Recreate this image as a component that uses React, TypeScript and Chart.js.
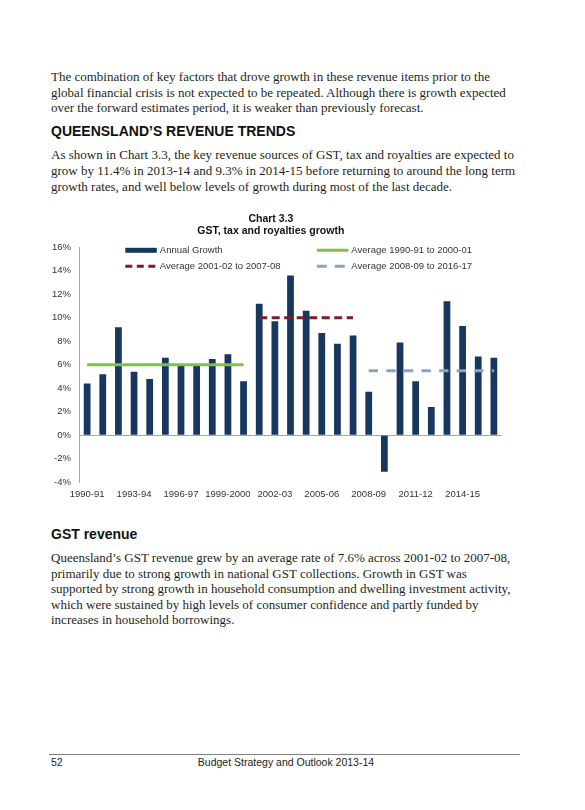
import React, { useEffect, useRef } from "react";
import { Chart, registerables } from "chart.js";

Chart.register(...registerables);

const categories = [
  "1990-91", "1991-92", "1992-93", "1993-94", "1994-95", "1995-96", "1996-97",
  "1997-98", "1998-99", "1999-2000", "2000-01", "2001-02", "2002-03", "2003-04",
  "2004-05", "2005-06", "2006-07", "2007-08", "2008-09", "2009-10", "2010-11",
  "2011-12", "2012-13", "2013-14", "2014-15", "2015-16", "2016-17",
];

const xTickLabels = [
  "1990-91", "1993-94", "1996-97", "1999-2000", "2002-03", "2005-06", "2008-09", "2011-12", "2014-15",
];

const annualGrowth = [
  4.4, 5.2, 9.2, 5.4, 4.8, 6.6, 6.0, 5.9, 6.5, 6.9, 4.6,
  11.2, 9.7, 13.6, 10.6, 8.7, 7.8, 8.5,
  3.7, -3.1, 7.9, 4.6, 2.4, 11.4, 9.3, 6.7, 6.6,
];

const avg1990to2001 = [
  6.0, 6.0, 6.0, 6.0, 6.0, 6.0, 6.0, 6.0, 6.0, 6.0, 6.0,
  null, null, null, null, null, null, null,
  null, null, null, null, null, null, null, null, null,
];

const avg2001to2008 = [
  null, null, null, null, null, null, null, null, null, null, null,
  10.0, 10.0, 10.0, 10.0, 10.0, 10.0, 10.0,
  null, null, null, null, null, null, null, null, null,
];

const avg2008to2017 = [
  null, null, null, null, null, null, null, null, null, null, null,
  null, null, null, null, null, null, null,
  5.5, 5.5, 5.5, 5.5, 5.5, 5.5, 5.5, 5.5, 5.5,
];

const yTicks = [-4, -2, 0, 2, 4, 6, 8, 10, 12, 14, 16];

const NAVY = "#17375E";
const GREEN = "#7DC242";
const DARKRED = "#7B1C2C";
const BLUEGREY = "#8AA4C8";
const AXIS = "#A6A6A6";
const SANS = "'Liberation Sans', Arial, Helvetica, sans-serif";
const SERIF = "'Liberation Serif', 'Times New Roman', Times, serif";

const insideLegend = {
  id: "insideLegend",
  afterDatasetsDraw(chart: any) {
    const { ctx, chartArea } = chart;
    const ds = chart.data.datasets;
    const slots = [
      { i: 0, col: 0, row: 0 },
      { i: 1, col: 1, row: 0 },
      { i: 2, col: 0, row: 1 },
      { i: 3, col: 1, row: 1 },
    ];
    const colX = [chartArea.left + 46, chartArea.left + 237.5];
    const rowY = [chartArea.top + 3, chartArea.top + 19];
    const markW = 31.5;
    ctx.save();
    ctx.font = "9.5px " + SANS;
    ctx.textBaseline = "middle";
    ctx.textAlign = "left";
    for (const s of slots) {
      const d = ds[s.i];
      const x = colX[s.col];
      const y = rowY[s.row];
      if (d.type === "line") {
        ctx.strokeStyle = d.borderColor;
        ctx.lineWidth = 3;
        ctx.setLineDash(d.legendDash || []);
        ctx.beginPath();
        ctx.moveTo(x, y);
        ctx.lineTo(x + markW, y);
        ctx.stroke();
        ctx.setLineDash([]);
      } else {
        ctx.fillStyle = d.backgroundColor;
        ctx.fillRect(x, y - 2.5, markW, 5);
      }
      ctx.fillStyle = "#333333";
      ctx.fillText(d.label, x + markW + 3, y + 0.5);
    }
    ctx.restore();
  },
};

function GrowthChart() {
  const ref = useRef<HTMLCanvasElement | null>(null);
  useEffect(() => {
    if (!ref.current) return;
    const chart = new Chart(ref.current, {
      type: "bar",
      data: {
        labels: categories,
        datasets: [
          {
            type: "bar",
            label: "Annual Growth",
            data: annualGrowth,
            backgroundColor: NAVY,
            borderWidth: 0,
            categoryPercentage: 0.9,
            barPercentage: 0.48,
            order: 2,
          } as any,
          {
            type: "line",
            label: "Average 1990-91 to 2000-01",
            data: avg1990to2001,
            borderColor: GREEN,
            borderWidth: 3,
            pointRadius: 0,
            spanGaps: false,
            order: 1,
            legendDash: [],
          } as any,
          {
            type: "line",
            label: "Average 2001-02 to 2007-08",
            data: avg2001to2008,
            borderColor: DARKRED,
            borderWidth: 3,
            borderDash: [8, 4.5],
            pointRadius: 0,
            order: 1,
            legendDash: [7, 4.5],
          } as any,
          {
            type: "line",
            label: "Average 2008-09 to 2016-17",
            data: avg2008to2017,
            borderColor: BLUEGREY,
            borderWidth: 3,
            borderDash: [9.3, 8.3],
            pointRadius: 0,
            order: 1,
            legendDash: [10, 8],
          } as any,
        ],
      },
      options: {
        responsive: false,
        animation: false,
        events: [],
        layout: { padding: { left: 0, right: 28.3, top: 0, bottom: 0 } },
        plugins: {
          legend: { display: false },
          tooltip: { enabled: false },
          title: {
            display: true,
            text: "Chart 3.3",
            color: "#111111",
            font: { family: SANS, size: 10.5, weight: "bold", lineHeight: 1.1 },
            padding: { top: 5.5, bottom: 0 },
          },
          subtitle: {
            display: true,
            text: "GST, tax and royalties growth",
            color: "#111111",
            font: { family: SANS, size: 10.5, weight: "bold", lineHeight: 1.1 },
            padding: { top: 0, bottom: 10.7 },
          },
        },
        scales: {
          x: {
            type: "category",
            offset: true,
            grid: { display: false, drawTicks: false },
            border: { display: false },
            ticks: {
              autoSkip: false,
              maxRotation: 0,
              minRotation: 0,
              padding: 6,
              color: "#333333",
              font: { family: SANS, size: 9.5 },
              callback: (_v: any, i: number) =>
                xTickLabels.includes(categories[i]) ? categories[i] : "",
            },
            afterFit: (scale: any) => {
              scale.height = 25.7;
            },
          },
          y: {
            min: -4,
            max: 16,
            afterBuildTicks: (scale: any) => {
              scale.ticks = yTicks.map((v) => ({ value: v }));
            },
            grid: {
              drawTicks: false,
              color: (c: any) => (c.tick && c.tick.value === 0 ? AXIS : "rgba(0,0,0,0)"),
              lineWidth: 1,
            },
            border: { display: true, color: AXIS, width: 1 },
            ticks: {
              padding: 8.3,
              color: "#333333",
              font: { family: SANS, size: 9.5 },
              callback: (v: any) => v + "%",
            },
            afterFit: (scale: any) => {
              scale.width = 39.3;
            },
          },
        },
      },
      plugins: [insideLegend],
    } as any);
    return () => chart.destroy();
  }, []);
  return (
    <canvas
      ref={ref}
      width={490}
      height={300}
      style={{ position: "absolute", left: 40, top: 208, width: 490, height: 300 }}
    />
  );
}

const bodyStyle: React.CSSProperties = {
  position: "absolute",
  left: 51,
  fontFamily: SERIF,
  fontSize: 13,
  lineHeight: "15.8px",
  color: "#231F20",
  whiteSpace: "nowrap",
  margin: 0,
};

const headStyle: React.CSSProperties = {
  position: "absolute",
  left: 51,
  fontFamily: SANS,
  fontSize: 14,
  fontWeight: "bold",
  lineHeight: "16px",
  color: "#111111",
  whiteSpace: "nowrap",
  margin: 0,
};

export default function App() {
  return (
    <div style={{ position: "relative", width: 585, height: 810, background: "#ffffff", overflow: "hidden" }}>
      <style>{"body{margin:0;background:#fff;}"}</style>
      <div style={{ ...bodyStyle, top: 68.8 }}>
        The combination of key factors that drove growth in these revenue items prior to the
        <br />
        global financial crisis is not expected to be repeated. Although there is growth expected
        <br />
        over the forward estimates period, it is weaker than previously forecast.
      </div>
      <div style={{ ...headStyle, top: 123.2 }}>QUEENSLAND’S REVENUE TRENDS</div>
      <div style={{ ...bodyStyle, top: 147.1 }}>
        As shown in Chart 3.3, the key revenue sources of GST, tax and royalties are expected to
        <br />
        grow by 11.4% in 2013-14 and 9.3% in 2014-15 before returning to around the long term
        <br />
        growth rates, and well below levels of growth during most of the last decade.
      </div>
      <GrowthChart />
      <div style={{ ...headStyle, top: 525.5 }}>GST revenue</div>
      <div style={{ ...bodyStyle, top: 550.4, lineHeight: "15.5px" }}>
        Queensland’s GST revenue grew by an average rate of 7.6% across 2001-02 to 2007-08,
        <br />
        primarily due to strong growth in national GST collections. Growth in GST was
        <br />
        supported by strong growth in household consumption and dwelling investment activity,
        <br />
        which were sustained by high levels of consumer confidence and partly funded by
        <br />
        increases in household borrowings.
      </div>
      <div style={{ position: "absolute", left: 48.5, top: 754, width: 471.5, height: 0, borderTop: "1px solid #7F7F7F" }} />
      <div
        style={{
          position: "absolute",
          left: 51,
          top: 756,
          fontFamily: SANS,
          fontSize: 10.5,
          lineHeight: "13px",
          color: "#222222",
        }}
      >
        52
      </div>
      <div
        style={{
          position: "absolute",
          left: 186,
          width: 200,
          textAlign: "center",
          top: 756,
          fontFamily: SANS,
          fontSize: 10.5,
          lineHeight: "13px",
          color: "#222222",
          whiteSpace: "nowrap",
        }}
      >
        Budget Strategy and Outlook 2013-14
      </div>
    </div>
  );
}
